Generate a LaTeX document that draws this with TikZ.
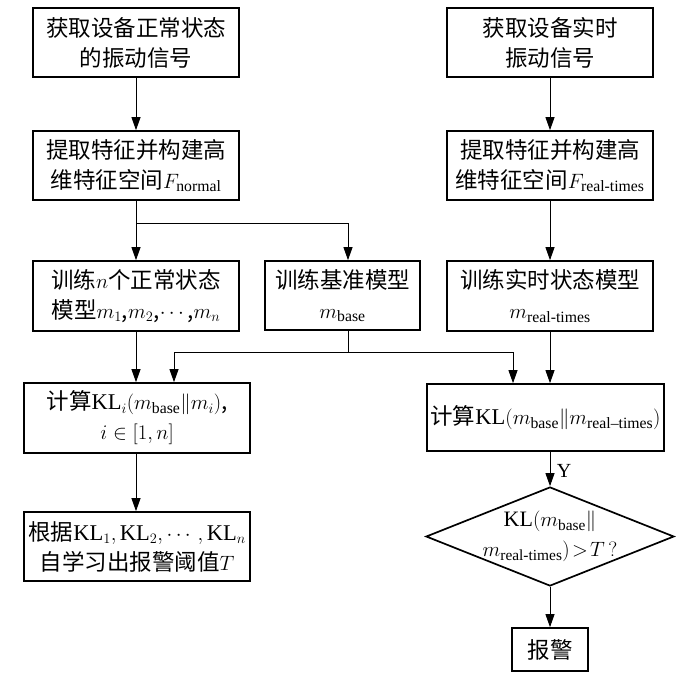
\documentclass[tikz,border=0pt]{standalone}
\usepackage{amsmath}
\usepackage{fontspec}
\setmainfont{Liberation Serif}
\newfontfamily\cjk{Noto Sans CJK SC}
\newcommand{\stx}[1]{\text{\rmfamily #1}}
\usetikzlibrary{arrows.meta,shapes.geometric}
\begin{document}
\begin{tikzpicture}[x=1pt,y=-1pt,
  box/.style={draw, line width=1.7pt, align=center, inner sep=0pt,
    font=\cjk\fontsize{22.5}{30}\selectfont},
  diam/.style={draw, diamond, line width=1.7pt, inner sep=0pt,
    minimum width=248pt, minimum height=99pt},
  txt/.style={align=center, inner sep=0pt, font=\cjk\fontsize{22}{30}\selectfont},
  conn/.style={line width=0.9pt, -{Triangle[length=13pt,width=9pt]}},
  line/.style={line width=0.9pt}]
\useasboundingbox (0,0) rectangle (700,673);

\node[box, minimum width=206pt, minimum height=69pt] (L1) at (136,42.5)
  {获取设备正常状态\\的振动信号};
\node[box, minimum width=206pt, minimum height=69pt] (L2) at (136,165.5)
  {提取特征并构建高\\维特征空间$F_{\stx{normal}}$};
\node[box, minimum width=206pt, minimum height=70pt] (L3) at (136,296)
  {训练$n$个正常状态\\模型$m_1$,$m_2$,$\cdots$,$m_n$};
\node[box, minimum width=155pt, minimum height=69pt] (B) at (342.5,295.5)
  {训练基准模型\\$m_{\stx{base}}$};
\node[box, minimum width=206pt, minimum height=69pt] (R1) at (550,42.5)
  {获取设备实时\\振动信号};
\node[box, minimum width=206pt, minimum height=69pt] (R2) at (550,165.5)
  {提取特征并构建高\\维特征空间$F_{\stx{real-times}}$};
\node[box, minimum width=206pt, minimum height=70pt] (R3) at (550,296)
  {训练实时状态模型\\$m_{\stx{real-times}}$};
\node[box, minimum width=226pt, minimum height=70pt] (KLi) at (137,418)
  {计算$\stx{KL}_i(m_{\stx{base}}\Vert m_i)$,\\$i\in[1,n]$};
\node[box, minimum width=226pt, minimum height=69pt] (T) at (137,546.5)
  {根据$\stx{KL}_1,\stx{KL}_2,\cdots,\stx{KL}_n$\\自学习出报警阈值$T$};
\node[box, minimum width=237pt, minimum height=67pt] (KLr) at (545.5,417.5)
  {计算$\stx{KL}(m_{\stx{base}}\Vert m_{\stx{real–times}})$};
\node[diam] (D) at (550,536.5) {};
\node[txt] (Dt) at (D.center)
  {$\stx{KL}(m_{\stx{base}}\Vert$\\$m_{\stx{real-times}})\!>\!T\,?$};
\node[box, minimum width=76pt, minimum height=43pt] (A) at (550,649.5) {报警};

\draw[conn] (L1) -- (L2);
\draw[conn] (L2) -- (L3);
\draw[conn] (L2.south) ++(0,23) -| ([xshift=5.5pt]B.north);
\draw[conn] (L3) -- (KLi.north -| L3.south);
\draw[conn] (KLi.south -| L3.south) -- (T.north -| L3.south);
\draw[line] ([xshift=5.5pt]B.south) -- ++(0,22) coordinate (j);
\draw[conn] (j) -| ([xshift=37pt]KLi.north);
\draw[conn] (j) -| ([xshift=-32.5pt]KLr.north);
\draw[conn] (R1) -- (R2);
\draw[conn] (R2) -- (R3);
\draw[conn] (R3.south) -- (R3.south |- KLr.north);
\draw[conn] (KLr.south -| D.north) -- (D.north)
  node[pos=0.55, right=3pt, font=\rmfamily\fontsize{20}{24}\selectfont] (Y) {Y};
\draw[conn] (D) -- (A);
\end{tikzpicture}
\end{document}
